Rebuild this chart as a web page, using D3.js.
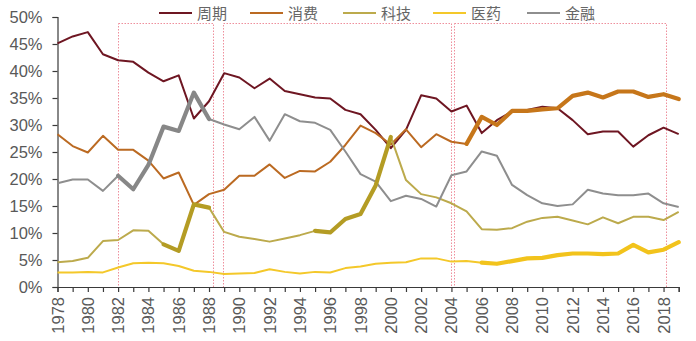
<!DOCTYPE html>
<html>
<head>
<meta charset="utf-8">
<script src="https://cdn.jsdelivr.net/npm/d3@7/dist/d3.min.js"></script>
<style>
  html, body { margin: 0; padding: 0; background: #fff; }
  svg { display: block; font-family: "Liberation Sans", Arial, sans-serif; }
</style>
</head>
<body>
<svg id="chart" width="696" height="341"></svg>
<script>
// Sector weights (%) by year, 1978–2019
const years = d3.range(1978, 2020);
const cycle    = [45.1,46.4,47.2,43.1,42.0,41.7,39.7,38.1,39.2,31.2,34.4,39.6,38.8,36.8,38.6,36.3,35.7,35.1,34.9,32.8,32.0,29.1,25.7,29.1,35.5,34.9,32.5,33.6,28.5,30.9,32.5,32.8,33.4,33.1,30.9,28.3,28.8,28.8,26.0,28.1,29.5,28.3];
const consumer = [28.3,26.1,24.9,28.0,25.4,25.4,23.4,20.1,21.2,15.2,17.2,18.0,20.6,20.6,22.7,20.2,21.5,21.4,23.2,26.3,29.9,28.5,26.4,29.2,25.9,28.3,26.9,26.5,31.5,30.0,32.6,32.6,32.9,33.1,35.4,36.0,35.1,36.2,36.2,35.2,35.7,34.8];
const tech     = [4.6,4.8,5.4,8.5,8.7,10.5,10.4,7.9,6.7,15.3,14.7,10.2,9.3,8.9,8.4,9.0,9.6,10.4,10.1,12.6,13.5,18.8,27.8,19.8,17.2,16.6,15.5,14.0,10.7,10.6,10.9,12.1,12.8,13.0,12.3,11.6,12.9,11.8,13.0,13.0,12.4,13.9];
const pharma   = [2.7,2.7,2.8,2.7,3.6,4.4,4.5,4.4,3.9,3.0,2.8,2.4,2.5,2.6,3.3,2.8,2.5,2.8,2.7,3.5,3.8,4.3,4.5,4.6,5.3,5.3,4.7,4.8,4.5,4.3,4.8,5.3,5.4,5.9,6.2,6.2,6.1,6.2,7.8,6.4,6.9,8.3];
const finance  = [19.2,19.9,19.9,17.8,20.6,18.1,22.6,29.7,28.9,36.0,31.1,30.1,29.2,31.5,27.1,32.0,30.7,30.4,29.1,25.1,20.9,19.5,15.9,16.9,16.3,14.9,20.7,21.4,25.1,24.3,18.9,17.0,15.5,15.0,15.3,18.0,17.3,17.0,17.0,17.3,15.5,14.8];

const seriesNames  = ["周期", "消费", "科技", "医药", "金融"];
const seriesValues = [cycle, consumer, tech, pharma, finance];
const seriesColors = ["#6e1622", "#bb6a22", "#bcaa4c", "#f4c82a", "#8e8e8e"];
const boldColors   = ["#6e1622", "#c6761a", "#b49c24", "#f2c31c", "#878787"];

// Emphasised stretches: [series index, first year, last year]
const emphasis = [[4, 1982, 1988], [2, 1985, 1988], [2, 1995, 2000], [1, 2005, 2019], [3, 2006, 2019]];

// Dotted frames around the three periods: [start year, end year]
const periods = [[1982, 1988.3], [1988.95, 2004], [2004.2, 2018.2]];

const yTicks = d3.range(0, 51, 5);
const xTickLabels = d3.range(1978, 2019, 2);

const svg = d3.select("#chart");
const x = d3.scaleLinear().domain([1978, 2019]).range([57.5, 678.7]);
const y = d3.scaleLinear().domain([0, 50]).range([287, 17]);

const textColor = "#595959";
const axisColor = "#3a3a3a";
const snap = v => Math.round(v) + 0.5;

// Period frames
svg.append("g").selectAll("rect").data(periods).join("rect")
  .attr("x", d => snap(x(d[0])))
  .attr("y", snap(y(48.9)))
  .attr("width", d => Math.round(x(d[1]) - x(d[0])))
  .attr("height", Math.round(y(0) - y(48.9)))
  .attr("fill", "none")
  .attr("stroke", "#ee8f9c")
  .attr("stroke-width", 1)
  .attr("stroke-dasharray", "1.5,1.5");

// Y axis
const yAxis = svg.append("g")
  .attr("transform", `translate(${x(1978)},0)`)
  .call(d3.axisLeft(y).tickValues(yTicks).tickFormat(d => d + "%").tickSize(5).tickPadding(10));
yAxis.select(".domain").attr("stroke", axisColor).attr("stroke-width", 1.2);
yAxis.selectAll(".tick line").attr("stroke", axisColor).attr("stroke-width", 1.2);
yAxis.selectAll(".tick text").attr("fill", textColor).attr("font-size", 16.5)
  .attr("font-family", "'Liberation Sans', Arial, sans-serif");

// X axis
const xAxis = svg.append("g")
  .attr("transform", `translate(0,${y(0)})`)
  .call(d3.axisBottom(x).tickValues(years).tickSize(5).tickFormat(""));
xAxis.select(".domain").attr("stroke", axisColor).attr("stroke-width", 1.2);
xAxis.selectAll(".tick line").attr("stroke", axisColor).attr("stroke-width", 1.2);

svg.append("g").selectAll("text").data(xTickLabels).join("text")
  .attr("transform", d => `translate(${x(d) + 6},${y(0) + 10}) rotate(-90)`)
  .attr("text-anchor", "end")
  .attr("fill", textColor)
  .attr("font-size", 16.5)
  .text(d => d);

// Lines
const line = d3.line().x(d => x(d[0])).y(d => y(d[1])).curve(d3.curveLinear);

const thin = svg.append("g");
seriesValues.forEach((vals, i) => {
  thin.append("path")
    .datum(years.map((yr, j) => [yr, vals[j]]))
    .attr("d", line)
    .attr("fill", "none")
    .attr("stroke", seriesColors[i])
    .attr("stroke-width", 2)
    .attr("stroke-linejoin", "round");
});

const bold = svg.append("g");
emphasis.forEach(([si, a, b]) => {
  const pts = years.map((yr, j) => [yr, seriesValues[si][j]]).filter(p => p[0] >= a && p[0] <= b);
  bold.append("path")
    .datum(pts)
    .attr("d", line)
    .attr("fill", "none")
    .attr("stroke", boldColors[si])
    .attr("stroke-width", 4.2)
    .attr("stroke-linejoin", "round")
    .attr("stroke-linecap", "round");
});

// Legend
const legendX = [159, 250, 343, 433, 527];
const legend = svg.append("g");
seriesNames.forEach((name, i) => {
  legend.append("line")
    .attr("x1", legendX[i]).attr("x2", legendX[i] + 33)
    .attr("y1", 13).attr("y2", 13)
    .attr("stroke", seriesColors[i]).attr("stroke-width", 2);
  legend.append("text")
    .attr("x", legendX[i] + 38).attr("y", 18.5)
    .attr("fill", "#666")
    .attr("font-size", 15)
    .attr("font-family", "'Noto Sans CJK SC', sans-serif")
    .text(name);
});
</script>
</body>
</html>
